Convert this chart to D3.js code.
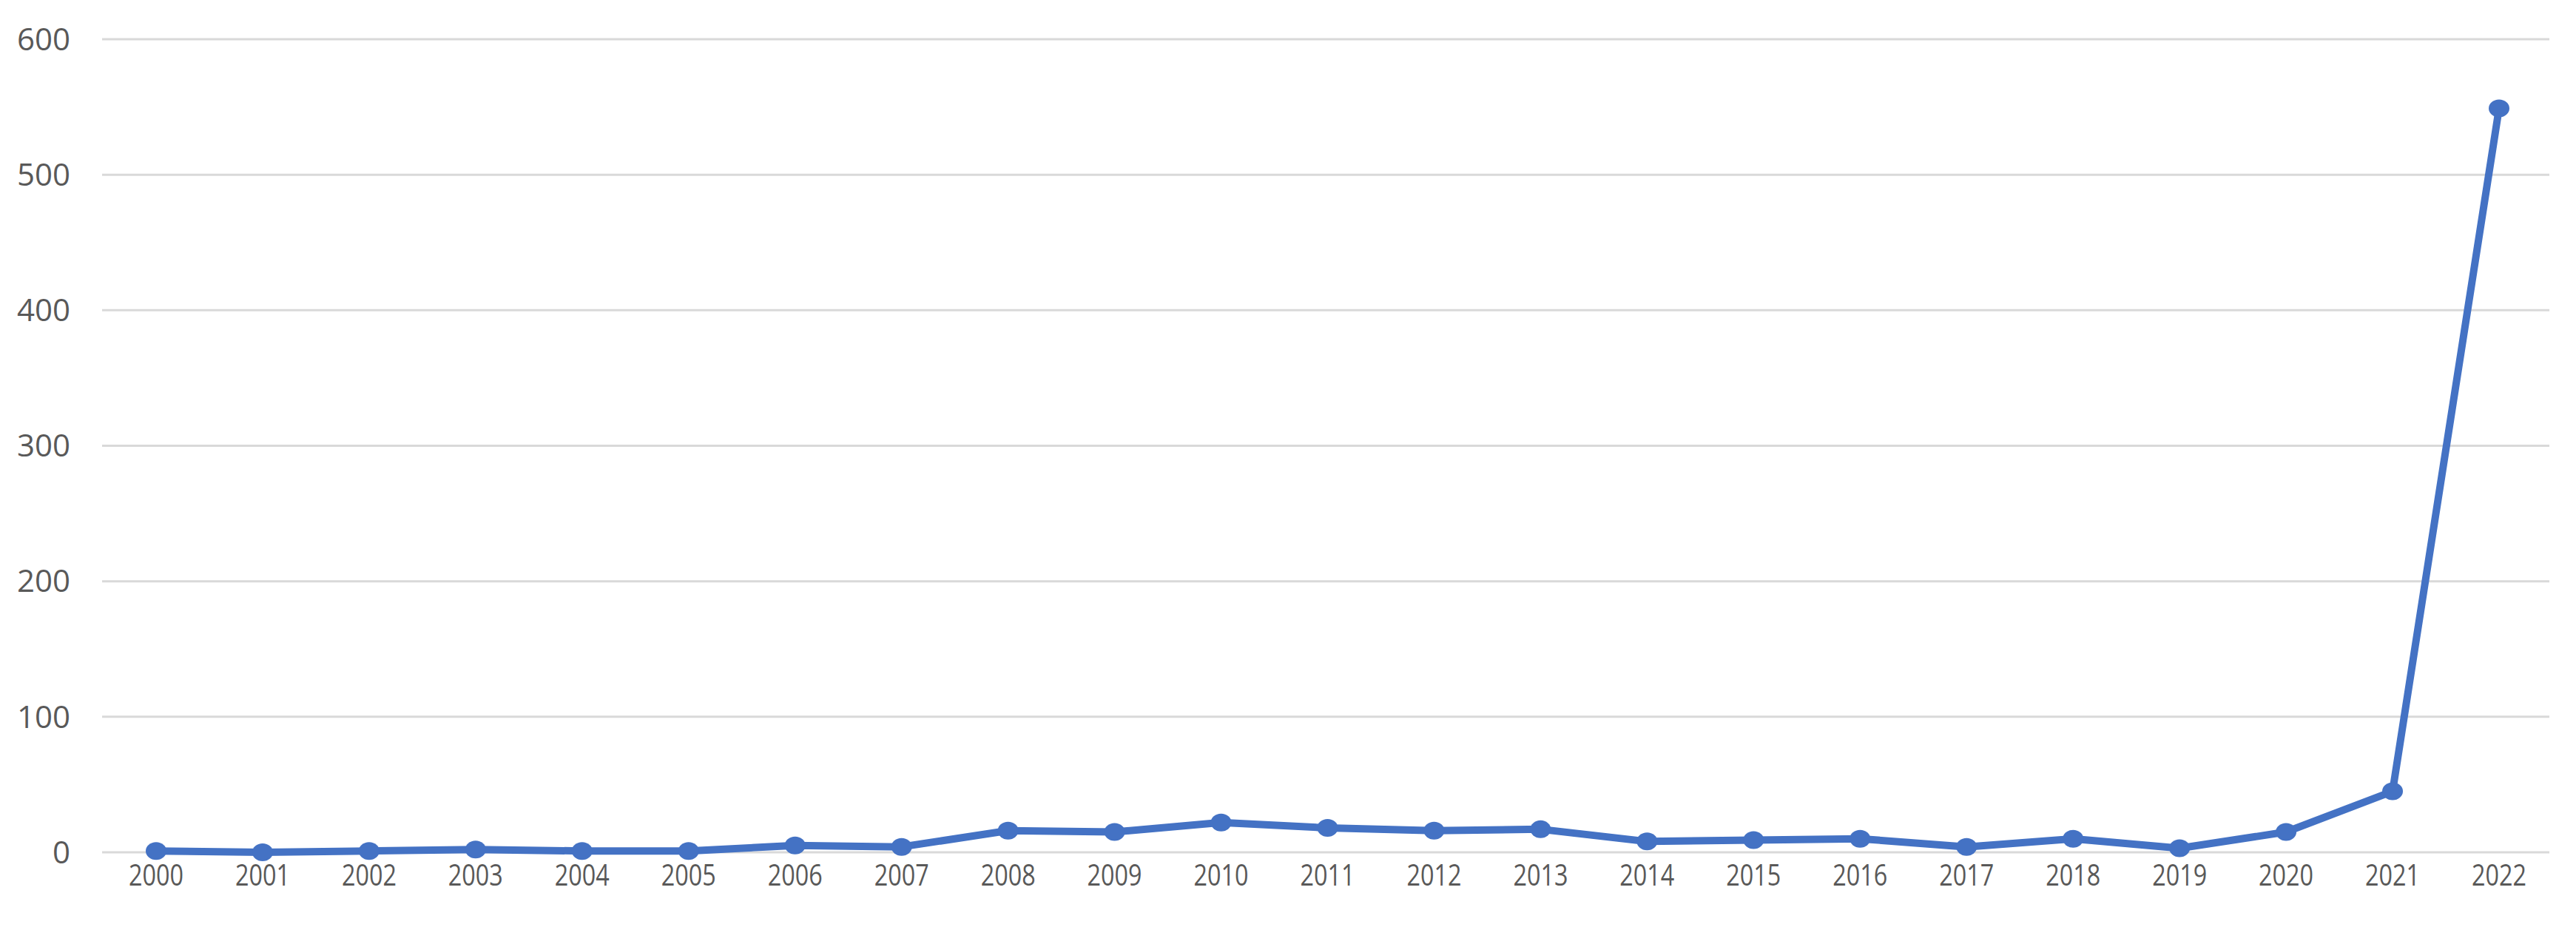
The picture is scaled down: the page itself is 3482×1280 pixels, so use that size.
<!DOCTYPE html>
<html><head><meta charset="utf-8">
<script src="https://cdn.jsdelivr.net/npm/d3@7"></script>
<style>body{margin:0;background:#fff}</style></head>
<body><svg id="c" width="3482" height="1280"></svg>
<script>
const years = ["2000","2001","2002","2003","2004","2005","2006","2007","2008","2009","2010","2011","2012","2013","2014","2015","2016","2017","2018","2019","2020","2021","2022"];
const values = [1,0,1,2,1,1,5,4,16,15,22,18,16,17,8,9,10,4,10,3,15,45,549];
const yTicks = [0,100,200,300,400,500,600];

(function(){
const svg = d3.select("#c");
const gLeft = 138, gRight = 3446, gTop = 53, gBottom = 1152;
const x = d3.scalePoint().domain(years).range([211, 3378]);
const y = d3.scaleLinear().domain([0, 600]).range([gBottom, gTop]);

svg.append("g").selectAll("line").data(yTicks).join("line")
  .attr("x1", gLeft).attr("x2", gRight)
  .attr("y1", d => y(d)).attr("y2", d => y(d))
  .attr("stroke", "#d9d9d9").attr("stroke-width", 3);

svg.append("g").selectAll("text").data(yTicks).join("text")
  .attr("x", 95).attr("y", d => y(d)).attr("dy", "0.35em")
  .attr("text-anchor", "end").attr("font-family", "Open Sans")
  .attr("font-size", 42).attr("fill", "#595959").text(d => d);

svg.append("g").selectAll("text").data(years).join("text")
  .attr("x", d => x(d)).attr("y", 1197)
  .attr("text-anchor", "middle").attr("font-family", "Open Sans")
  .attr("font-size", 40).attr("fill", "#595959")
  .attr("textLength", 74).attr("lengthAdjust", "spacingAndGlyphs")
  .text(d => d);

const line = d3.line().x((d, i) => x(years[i])).y(d => y(d));
svg.append("path").datum(values).attr("d", line)
  .attr("fill", "none").attr("stroke", "#4472C4").attr("stroke-width", 10)
  .attr("stroke-linejoin", "round");

svg.append("g").selectAll("ellipse").data(values).join("ellipse")
  .attr("cx", (d, i) => x(years[i])).attr("cy", d => y(d))
  .attr("rx", 14).attr("ry", 12).attr("fill", "#4472C4");
})();
</script></body></html>
